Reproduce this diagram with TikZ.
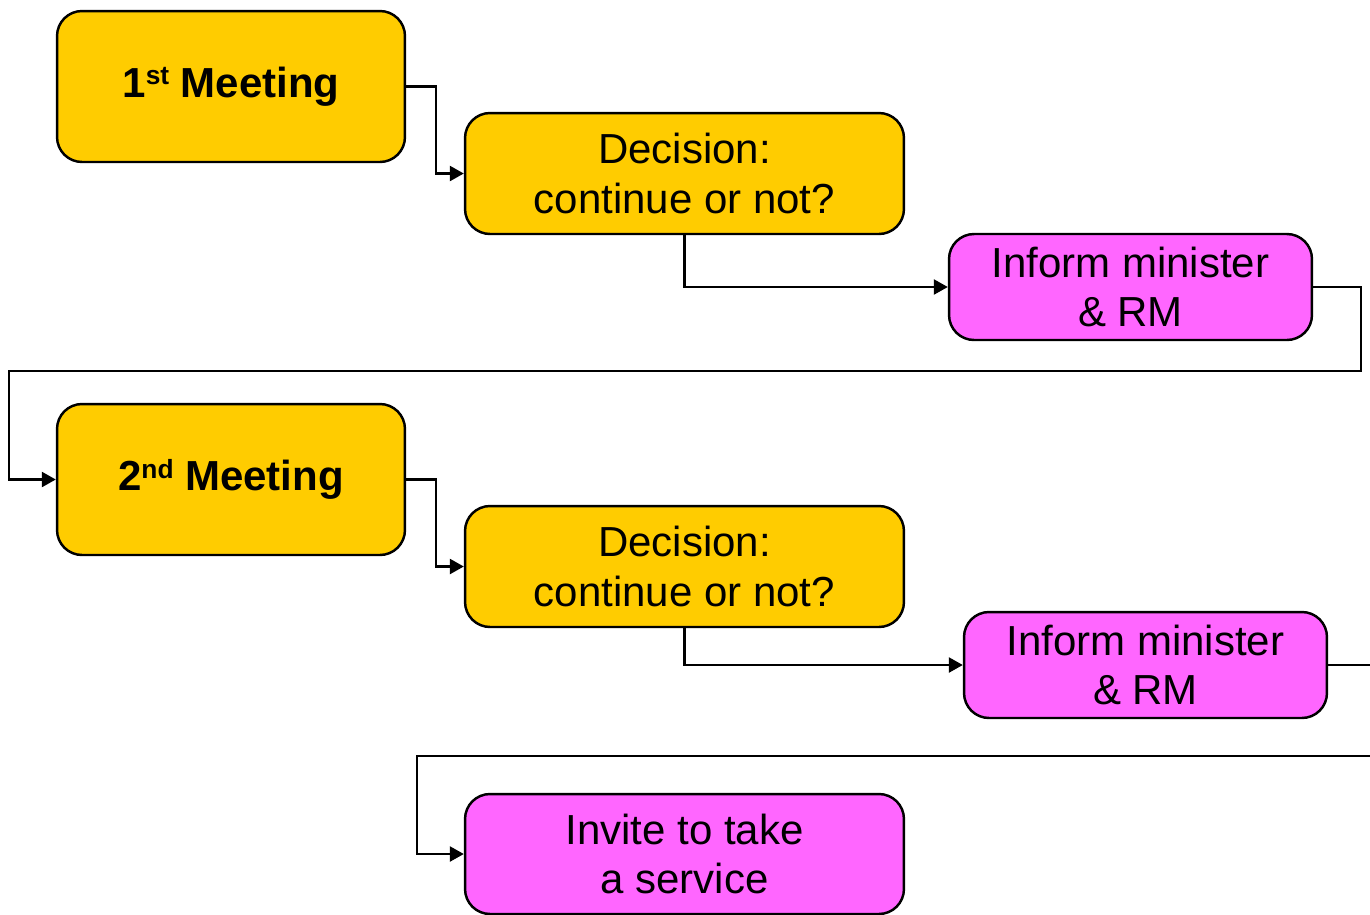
\documentclass[tikz,border=0pt]{standalone}
\usepackage{fontspec}
\setmainfont{Liberation Sans}
\usetikzlibrary{arrows.meta}
\definecolor{meetgold}{HTML}{FFCC00}
\definecolor{informpink}{HTML}{FF66FF}
\newcommand{\supr}[1]{\raisebox{0.3em}{\fontsize{15}{15}\selectfont #1}}
\begin{document}
\begin{tikzpicture}[x=0.02cm,y=-0.02cm]
		\tikzset{box/.style = {shape=rectangle,draw,line width=1.4pt,rounded corners=0.5cm,align=center,inner sep=0pt,
			font=\fontsize{23.9}{28.4}\selectfont}}
		\tikzset{meeting/.style = {box,fill=meetgold,minimum width=6.96cm,minimum height=3.02cm,font=\fontsize{23.9}{28.4}\selectfont\bfseries}}
		\tikzset{decision/.style = {box,fill=meetgold,minimum width=8.78cm,minimum height=2.42cm}}
		\tikzset{inform/.style = {box,fill=informpink,minimum width=7.26cm,minimum height=2.12cm}}
		\tikzset{edge/.style = {->,> = {Triangle[length=0.28cm,width=0.3cm]},line width=1.4pt}}
		\useasboundingbox (0,0) rectangle (1370,914);
		\clip (0,0) rectangle (1370,914);
		\node[meeting] (m1) at (231,86.5) {1\supr{st} Meeting};
		\node[decision] (d1) at (684.5,173.5) {Decision:\\continue or not?};
		\node[inform] (i1) at (1130.5,287) {Inform minister\\\& RM};
		\node[meeting] (m2) at (231,479.5) {2\supr{nd} Meeting};
		\node[decision] (d2) at (684.5,566.5) {Decision:\\continue or not?};
		\node[inform] (i2) at (1145.5,665) {Inform minister\\\& RM};
		\node[box,fill=informpink,minimum width=8.78cm,minimum height=2.4cm] (inv) at (684.5,854) {Invite to take\\a service};
		\draw[edge] (m1.east) -- ++(30,0) |- (d1.west);
		\draw[edge] (d1.south) |- (i1.west);
		\draw[edge] (i1.east) -- ++(48,0) |- (9,371) |- (m2.west);
		\draw[edge] (m2.east) -- ++(30,0) |- (d2.west);
		\draw[edge] (d2.south) |- (i2.west);
		\draw[edge] (i2.east) -- ++(80,0) |- (417,756) |- (inv.west);
	\end{tikzpicture}
\end{document}
